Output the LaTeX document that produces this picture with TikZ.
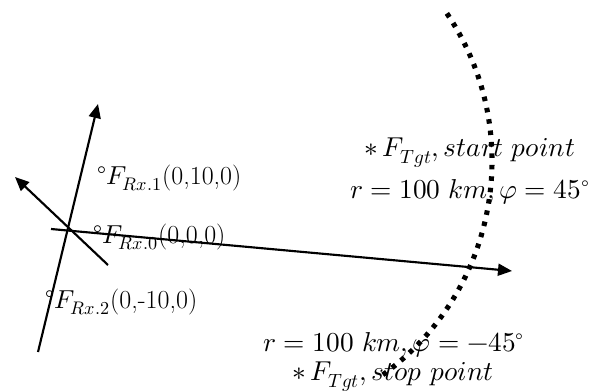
\documentclass[tikz,border=0pt]{standalone}
\usepackage{unicode-math}
\setmathfont{Latin Modern Math}
\usepackage{tikz}
\usetikzlibrary{arrows.meta}

\begin{document}
\begin{tikzpicture}[x=0.75pt, y=-0.75pt, line width=1.6pt,
		axis/.style={-{Triangle[length=10.5pt,width=9pt]}},
		track/.style={line width=3.8pt, dash pattern=on 3.4pt off 5.2pt},
		lbl/.style={inner sep=0pt, font=\fontsize{19.5}{24}\selectfont},
		tgt/.style={inner sep=0pt, font=\fontsize{20.5}{25}\selectfont}]
	\useasboundingbox (0,0) rectangle (599,392);

		% axes through the receiver at the origin
		\coordinate (xs) at (51,229);
		\coordinate (xe) at (512,271);
		\coordinate (ys) at (38,352);
		\coordinate (ye) at (98,104);
		\coordinate (zs) at (108,265);
		\coordinate (ze) at (15,177);
		\draw[axis] (xs) to (xe);
		\draw[axis] (ys) to (ye);
		\draw[axis] (zs) to (ze);

		% target track
		\coordinate (c) at (228,161);
		\draw[track] (c) ++(-34:264) arc[start angle=-34, end angle=55.5, radius=264];

		\node[lbl, anchor=west] (rx1) at (96,178) {°$F_{Rx.1}$(0,10,0)};
		\node[lbl, anchor=west] (rx0) at (92,237) {°$F_{Rx.0}$(0,0,0)};
		\node[lbl, anchor=west] (rx2) at (44,302) {°$F_{Rx.2}$(0,-10,0)};
		\node[tgt] (t1) at (470,153) {$*\,F_{Tgt}, start\ point$};
		\node[tgt] (t1r) at (470,192) {$r = 100\ km, \varphi = 45^\circ$};
		\node[tgt] (t2r) at (394,345) {$r = 100\ km, \varphi = -45^\circ$};
		\node[tgt] (t2) at (393,377) {$*\,F_{Tgt}, stop\ point$};
	\end{tikzpicture}
\end{document}
